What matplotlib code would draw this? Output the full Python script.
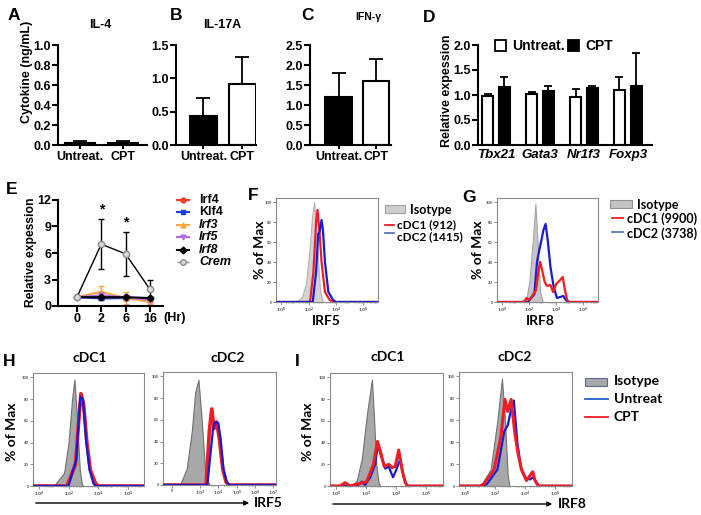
# libraries
import numpy as np
import matplotlib.pyplot as plt
from matplotlib.patches import Rectangle
from matplotlib.ticker import FormatStrFormatter

plt.rcParams['font.family'] = ['Liberation Sans', 'DejaVu Sans']
plt.rcParams['font.weight'] = 'bold'
plt.rcParams['axes.linewidth'] = 1.5

# ---- data: cytokines (A-C)
groups = ['Untreat.', 'CPT']
il4 = [0.02, 0.02]
il4_err = [0.02, 0.02]
il17a = [0.43, 0.91]
il17a_err = [0.27, 0.41]
ifng = [1.19, 1.61]
ifng_err = [0.62, 0.55]

# ---- data: T cell genes (D)
genes = ['Tbx21', 'Gata3', 'Nr1f3', 'Foxp3']
d_untreat = [0.99, 1.03, 0.97, 1.11]
d_untreat_err = [0.04, 0.03, 0.15, 0.26]
d_cpt = [1.16, 1.08, 1.15, 1.19]
d_cpt_err = [0.21, 0.11, 0.04, 0.66]

# ---- data: time course (E)
hours = ['0', '2', '6', '16']
irf4 = [1.0, 1.0, 0.9, 0.75]
irf4_err = [0, 0.2, 0.2, 0.15]
klf4 = [1.0, 0.85, 0.9, 0.9]
klf4_err = [0, 0.2, 0.15, 0.15]
irf3 = [1.0, 1.6, 0.9, 0.45]
irf3_err = [0, 0.65, 0.7, 0.3]
irf5 = [1.0, 1.2, 1.0, 0.7]
irf5_err = [0, 0.3, 0.3, 0.2]
irf8 = [1.0, 1.0, 1.0, 0.9]
irf8_err = [0, 0.1, 0.1, 0.1]
crem = [1.0, 7.0, 5.9, 1.9]
crem_err = [0, 2.85, 2.5, 1.05]

# ---- data: flow histograms, x in log10 units, y in % of max
f_iso_x = [1.1, 1.5, 1.8, 2.05, 2.25, 2.4, 2.55, 2.7, 2.85, 3.05]
f_iso_y = [0, 5, 18, 50, 85, 100, 78, 40, 10, 0]
f_cdc1_x = [-0.4, 2.1, 2.35, 2.55, 2.65, 2.8, 2.95, 3.2, 3.55, 3.8, 7.1]
f_cdc1_y = [0, 0, 30, 80, 92, 70, 40, 10, 2, 0, 0]
f_cdc2_x = [-0.4, 2.3, 2.55, 2.7, 2.8, 2.95, 3.05, 3.2, 3.45, 3.8, 4.0, 7.1]
f_cdc2_y = [0, 0, 30, 68, 70, 82, 72, 40, 10, 2, 0, 0]

g_iso_x = [1.3, 1.8, 2.0, 2.25, 2.45, 2.57, 2.7, 2.8, 3.0]
g_iso_y = [0, 5, 20, 60, 98, 70, 35, 10, 0]
g_cdc1_x = [-0.4, 1.65, 1.8, 2.0, 2.5, 2.67, 2.81, 2.98, 3.14, 3.33, 3.57, 3.76, 4.0, 4.29, 4.48, 4.64, 4.81, 4.95, 7.1]
g_cdc1_y = [0, 0, 4, 2, 12, 30, 40, 30, 20, 16, 17, 10, 18, 22, 25, 12, 2, 0, 0]
g_cdc2_x = [-0.4, 1.9, 2.38, 2.57, 2.74, 2.9, 3.05, 3.21, 3.38, 3.57, 3.81, 4.05, 4.29, 4.52, 4.71, 4.88, 7.1]
g_cdc2_y = [0, 0, 8, 40, 52, 62, 72, 78, 60, 35, 15, 4, 5, 6, 2, 0, 0]

h1_iso_x = [1.0, 1.7, 2.0, 2.24, 2.4, 2.58, 2.76, 2.9, 3.0]
h1_iso_y = [0, 12, 40, 80, 98, 60, 15, 2, 0]
h1_cpt_x = [-0.4, 1.9, 2.47, 2.69, 2.84, 3.02, 3.24, 3.47, 3.8, 4.0, 7.1]
h1_cpt_y = [0, 0, 20, 60, 85, 75, 40, 15, 3, 0, 0]
h1_unt_x = [-0.4, 2.0, 2.53, 2.71, 2.8, 2.98, 3.2, 3.42, 3.69, 3.85, 7.1]
h1_unt_y = [0, 0, 25, 65, 82, 80, 40, 15, 2, 0, 0]

h2_iso_x = [1.9, 2.27, 2.55, 2.73, 2.91, 3.09, 3.27, 3.46, 3.55]
h2_iso_y = [0, 15, 50, 85, 97, 60, 15, 2, 0]
h2_cpt_x = [0.97, 3.33, 3.51, 3.64, 3.77, 3.91, 4.06, 4.24, 4.42, 4.55, 7.16]
h2_cpt_y = [0, 0, 50, 70, 52, 58, 42, 15, 3, 0, 0]
h2_unt_x = [0.97, 3.4, 3.55, 3.7, 3.82, 4.0, 4.13, 4.28, 4.46, 4.61, 7.16]
h2_unt_y = [0, 0, 25, 50, 58, 57, 42, 15, 3, 0, 0]

i1_iso_x = [1.04, 1.38, 1.71, 2.04, 2.38, 2.53, 2.67, 2.82, 2.93]
i1_iso_y = [0, 5, 25, 65, 98, 60, 20, 3, 0]
i1_cpt_x = [-0.4, 0.27, 0.6, 0.93, 2.04, 2.49, 2.75, 2.98, 3.2, 3.49, 3.71, 3.93, 4.16, 4.38, 4.6, 4.76, 7.1]
i1_cpt_y = [0, 0, 3, 0, 4, 20, 41, 30, 18, 20, 17, 18, 33, 15, 3, 0, 0]
i1_unt_x = [-0.4, 1.38, 1.71, 1.93, 2.27, 2.6, 2.78, 2.98, 3.27, 3.49, 3.78, 4.0, 4.27, 4.49, 4.71, 7.1]
i1_unt_y = [0, 0, 4, 1, 8, 20, 38, 28, 16, 18, 8, 15, 25, 8, 0, 0]

i2_iso_x = [1.02, 1.7, 2.15, 2.45, 2.65, 2.83, 2.95]
i2_iso_y = [0, 15, 60, 98, 60, 10, 0]
i2_cpt_x = [-0.4, 1.0, 1.25, 1.93, 2.38, 2.65, 2.83, 3.06, 3.29, 3.51, 3.74, 4.08, 4.49, 4.65, 4.88, 7.1]
i2_cpt_y = [0, 0, 2, 15, 45, 79, 68, 79, 50, 30, 15, 5, 13, 5, 0, 0]
i2_unt_x = [-0.4, 1.2, 1.47, 2.15, 2.61, 2.83, 3.06, 3.24, 3.47, 3.7, 3.97, 4.31, 4.54, 4.76, 4.92, 7.1]
i2_unt_y = [0, 0, 2, 15, 50, 55, 70, 78, 40, 18, 8, 6, 8, 2, 0, 0]

RED = '#ee1d23'
BLUE = '#1a1ad0'

W, H = 701, 515
fig = plt.figure(figsize=(7.01, 5.15), dpi=100)


def box(x0, y0, x1, y1):
    # axes placed by pixel corners (top-left origin)
    return fig.add_axes([x0 / W, 1 - y1 / H, (x1 - x0) / W, (y1 - y0) / H])


def bar_style(ax):
    ax.spines['top'].set_visible(False)
    ax.spines['right'].set_visible(False)
    ax.tick_params(labelsize=9, length=4, width=1.5, pad=1)
    ax.yaxis.set_major_formatter(FormatStrFormatter('%.1f'))


def cytokine(ax, vals, errs, top, step, left, right):
    x = np.arange(len(groups))
    ax.bar(x, vals, width=0.7, color=['black', 'white'], edgecolor='black', linewidth=1.5,
           yerr=[[0] * len(errs), errs], error_kw=dict(ecolor='black', elinewidth=1.3, capsize=5, capthick=1.3))
    ax.set_xlim(left, right)
    ax.set_ylim(0, top)
    ax.set_yticks(np.arange(0, top + 0.001, step))
    ax.set_xticks(x, groups)
    bar_style(ax)
    ax.tick_params(axis='x', length=3)


# A, B, C
axA = box(58, 45, 147, 145)
cytokine(axA, il4, il4_err, 1.0, 0.2, -0.5, 1.55)
axB = box(176, 45, 256, 145)
cytokine(axB, il17a, il17a_err, 1.5, 0.5, -0.71, 1.36)
axC = box(310, 45, 391, 145)
cytokine(axC, ifng, ifng_err, 2.5, 0.5, -0.76, 1.4)

# D
axD = box(478, 45, 652, 145)
xg = np.arange(len(genes))
axD.bar(xg - 0.19, d_untreat, width=0.25, color='white', edgecolor='black', linewidth=1.5,
        yerr=[[0] * 4, d_untreat_err], error_kw=dict(ecolor='black', elinewidth=1.3, capsize=3, capthick=1.3))
axD.bar(xg + 0.19, d_cpt, width=0.25, color='black', edgecolor='black', linewidth=1.5,
        yerr=[[0] * 4, d_cpt_err], error_kw=dict(ecolor='black', elinewidth=1.3, capsize=3, capthick=1.3))
axD.set_xlim(-0.41, 3.55)
axD.set_ylim(0, 2.0)
axD.set_yticks([0, 0.5, 1.0, 1.5, 2.0])
axD.set_xticks(xg, genes, fontstyle='italic')
bar_style(axD)
axD.tick_params(axis='x', length=0, labelsize=9.5, pad=3)

# E
axE = box(58, 200, 163, 306)
xh = np.arange(len(hours))
series = [(irf4, irf4_err, '#f03c28', 'o', 'Irf4', 'normal'), (klf4, klf4_err, '#1f3fd6', 's', 'Klf4', 'normal'),
          (irf3, irf3_err, '#f7a541', '^', 'Irf3', 'italic'), (irf5, irf5_err, '#b06fe8', 'v', 'Irf5', 'italic'),
          (irf8, irf8_err, 'black', 'D', 'Irf8', 'italic')]
for vals, errs, col, mk, name, st in series:
    axE.errorbar(xh, vals, yerr=errs, color=col, marker=mk, ms=3.5, lw=1.5, capsize=2.5, elinewidth=1)
axE.errorbar(xh, crem, yerr=crem_err, color='black', marker='o', ms=4.5, mfc='#d9d9d9', mec='#8c8c8c',
             lw=1, capsize=2.5, elinewidth=1, ecolor='black')
for i in [1, 2]:
    axE.text(i, crem[i] + crem_err[i] + 0.3, '*', ha='center', va='bottom', fontsize=10)
axE.set_xlim(-0.78, 3.54)
axE.set_ylim(0, 12)
axE.set_yticks([0, 3, 6, 9, 12])
axE.set_xticks(xh, hours)
axE.spines['top'].set_visible(False)
axE.spines['right'].set_visible(False)
axE.tick_params(labelsize=9, length=4, width=1.5, pad=1)


# flow panels
def flow(ax, iso, first, second, iso_col, iso_edge, lw1, lw2, xlim=(-0.4, 7.1), bi=False):
    ax.fill_between(iso[0], iso[1], color=iso_col, edgecolor=iso_edge, lw=0.8, zorder=1)
    ax.plot(first[0], first[1], color=first[2], lw=lw1, zorder=2, solid_joinstyle='round')
    ax.plot(second[0], second[1], color=second[2], lw=lw2, zorder=3, solid_joinstyle='round')
    ax.set_xlim(*xlim)
    ax.set_ylim(0, 104)
    for s in ax.spines.values():
        s.set_linewidth(0.8)
        s.set_color('#8a8a8a')
    ax.set_yticks([0, 20, 40, 60, 80, 100])
    if bi:
        ax.set_xticks([1.47, 3, 4, 5, 6, 7], ['0'] + [f'$10^{{{d}}}$' for d in range(3, 8)])
        minor = [d + np.log10(k) for d in range(3, 7) for k in range(2, 10)]
    else:
        ax.set_xticks([0, 2, 4, 6], [f'$10^{{{d}}}$' for d in [0, 2, 4, 6]])
        minor = [d + np.log10(k) for d in range(0, 7) for k in range(2, 10)]
    ax.set_xticks([m for m in minor if xlim[0] < m < xlim[1]], minor=True)
    ax.tick_params(labelsize=3.2, length=2, width=0.5, pad=1, colors='#666666')
    ax.tick_params(which='minor', length=1, width=0.4, colors='#888888')


axF = box(276, 198, 378, 302)
flow(axF, (f_iso_x, f_iso_y), (f_cdc1_x, f_cdc1_y, RED), (f_cdc2_x, f_cdc2_y, BLUE),
     '#d4d4d4', '#b5b5b5', 1.6, 1.6)
axG = box(497, 198, 598, 302)
flow(axG, (g_iso_x, g_iso_y), (g_cdc2_x, g_cdc2_y, BLUE), (g_cdc1_x, g_cdc1_y, RED),
     '#c6c6c6', '#a5a5a5', 1.6, 1.6)
axH1 = box(33, 373, 144, 486)
flow(axH1, (h1_iso_x, h1_iso_y), (h1_cpt_x, h1_cpt_y, RED), (h1_unt_x, h1_unt_y, BLUE),
     '#a8a8a8', '#707070', 2.6, 1.6)
axH2 = box(163, 372, 276, 485)
flow(axH2, (h2_iso_x, h2_iso_y), (h2_cpt_x, h2_cpt_y, RED), (h2_unt_x, h2_unt_y, BLUE),
     '#a8a8a8', '#707070', 2.6, 1.6, xlim=(0.97, 7.16), bi=True)
axI1 = box(330, 373, 443, 486)
flow(axI1, (i1_iso_x, i1_iso_y), (i1_unt_x, i1_unt_y, BLUE), (i1_cpt_x, i1_cpt_y, RED),
     '#a8a8a8', '#707070', 1.6, 2.2)
axI2 = box(459, 372, 572, 486)
flow(axI2, (i2_iso_x, i2_iso_y), (i2_unt_x, i2_unt_y, BLUE), (i2_cpt_x, i2_cpt_y, RED),
     '#a8a8a8', '#707070', 1.6, 2.2)

# overlay in pixel coordinates for labels and legends
ov = fig.add_axes([0, 0, 1, 1])
ov.set_xlim(0, W)
ov.set_ylim(H, 0)
ov.axis('off')

for lab, (x, y) in {'A': (14, 15), 'B': (176, 15), 'C': (308, 15), 'D': (429, 17), 'E': (12, 190),
                    'F': (253, 195), 'G': (469, 197), 'H': (9, 362), 'I': (297, 362)}.items():
    ov.text(x, y, lab, fontsize=12.5, ha='center', va='center')

ov.text(100, 25, 'IL-4', fontsize=9, ha='center', va='center')
ov.text(222, 25, 'IL-17A', fontsize=9, ha='center', va='center')
ov.text(368, 17, 'IFN-γ', fontsize=7.5, ha='center', va='center')
ov.text(27, 72, 'Cytokine (ng/mL)', fontsize=9, rotation=90, ha='center', va='center')
ov.text(447, 91, 'Relative expession', fontsize=9, rotation=90, ha='center', va='center')
ov.text(31, 252, 'Relative expession', fontsize=8.7, rotation=90, ha='center', va='center')
ov.text(175, 318, '(Hr)', fontsize=9, ha='center', va='center')

# D legend
ov.add_patch(Rectangle((495, 40), 11, 11, facecolor='white', edgecolor='black', lw=1.3))
ov.text(512, 46, 'Untreat.', fontsize=10, va='center')
ov.add_patch(Rectangle((568, 40), 11, 11, facecolor='black', edgecolor='black', lw=1.3))
ov.text(585, 46, 'CPT', fontsize=10, va='center')

# E legend
for k, (vals, errs, col, mk, name, st) in enumerate(series):
    yy = 200 + 12.4 * k
    ov.plot([177, 189], [yy, yy], color=col, lw=1.5)
    ov.plot([183], [yy], marker=mk, color=col, ms=3.5)
    ov.text(199, yy, name, fontsize=9, fontstyle=st, va='center')
ov.plot([177, 189], [262, 262], color='#8c8c8c', lw=1, ls='--')
ov.plot([183], [262], marker='o', ms=4, mfc='#d9d9d9', mec='#8c8c8c')
ov.text(199, 262, 'Crem', fontsize=9, fontstyle='italic', va='center')

# flow labels
flow_font = ['Lato', 'DejaVu Sans']
for x, y in [(260, 250), (478, 250), (12, 432), (308, 432)]:
    ov.text(x, y, '% of Max', family=flow_font, fontsize=10, rotation=90, ha='center', va='center')
ov.text(326, 321, 'IRF5', family=flow_font, fontsize=10, ha='center', va='center')
ov.text(540, 321, 'IRF8', family=flow_font, fontsize=10, ha='center', va='center')
for x, y, t in [(90, 358, 'cDC1'), (228, 358, 'cDC2'), (388, 357, 'cDC1'), (515, 357, 'cDC2')]:
    ov.text(x, y, t, family=flow_font, fontsize=10, ha='center', va='center')

ov.annotate('', xy=(252, 503), xytext=(33, 503), arrowprops=dict(arrowstyle='-|>', color='black', lw=1, mutation_scale=7))
ov.text(254, 503, 'IRF5', family=flow_font, fontsize=10, va='center')
ov.annotate('', xy=(555, 504), xytext=(330, 504), arrowprops=dict(arrowstyle='-|>', color='black', lw=1, mutation_scale=7))
ov.text(558, 504, 'IRF8', family=flow_font, fontsize=10, va='center')

# F legend
ov.add_patch(Rectangle((385, 205), 20, 8, facecolor='#cfcfcf', edgecolor='#a0a0a0', lw=0.8))
ov.text(410, 210, 'Isotype', family=flow_font, fontsize=9, va='center')
ov.plot([385, 394], [225, 225], color=RED, lw=1.3)
ov.text(397, 225, 'cDC1 (912)', family=flow_font, fontsize=8.5, va='center')
ov.plot([385, 394], [233, 233], color='#5b7bb5', lw=1.3)
ov.text(397, 237, 'cDC2 (1415)', family=flow_font, fontsize=8.5, va='center')

# G legend
ov.add_patch(Rectangle((610, 200), 22, 8, facecolor='#c4c4c4', edgecolor='#909090', lw=0.8))
ov.text(637, 205, 'Isotype', family=flow_font, fontsize=9, va='center')
ov.plot([612, 623], [218, 218], color=RED, lw=1.3)
ov.text(627, 219, 'cDC1 (9900)', family=flow_font, fontsize=9, va='center')
ov.plot([612, 623], [232, 232], color='#5b7bb5', lw=1.3)
ov.text(627, 234, 'cDC2 (3738)', family=flow_font, fontsize=9, va='center')

# I legend
ov.add_patch(Rectangle((585, 378), 22, 8, facecolor='#a8a8a8', edgecolor='#5a6a8a', lw=0.8))
ov.text(614, 381, 'Isotype', family=flow_font, fontsize=10, va='center')
ov.plot([585, 608], [399, 399], color='#2b5fc7', lw=1.3)
ov.text(614, 399, 'Untreat', family=flow_font, fontsize=10, va='center')
ov.plot([585, 608], [417, 417], color=RED, lw=1.3)
ov.text(614, 417, 'CPT', family=flow_font, fontsize=10, va='center')

plt.savefig('out.png', dpi=100)
